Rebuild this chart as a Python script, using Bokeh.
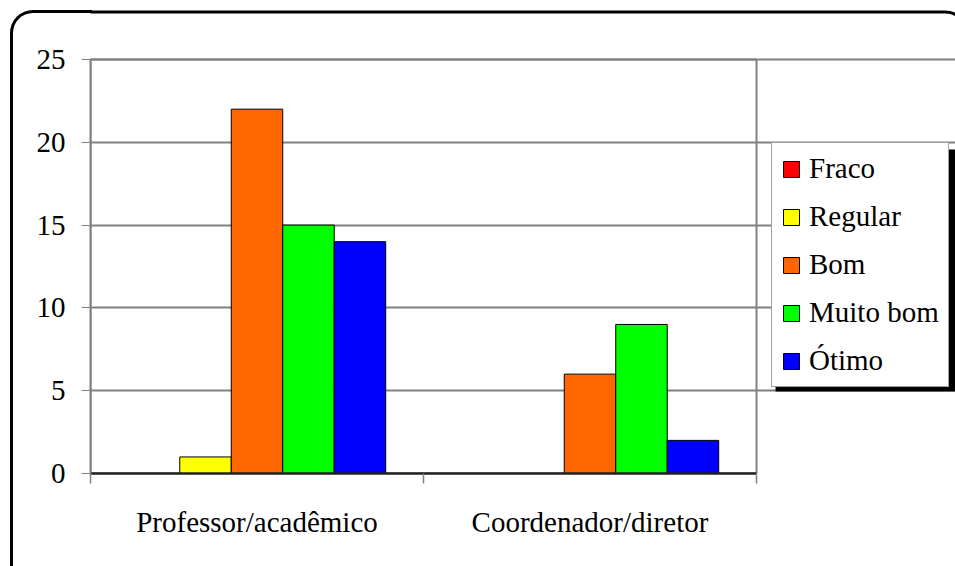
from bokeh.plotting import figure
from bokeh.models import (ColumnDataSource, Range1d, FixedTicker, BoxAnnotation,
                          InlineStyleSheet)
from bokeh.embed import file_html
from bokeh.resources import INLINE

# Survey answers per respondent group
categories = ["Professor/acadêmico", "Coordenador/diretor"]
ratings = ["Fraco", "Regular", "Bom", "Muito bom", "Ótimo"]
fraco = [0, 0]
regular = [1, 0]
bom = [22, 6]
muito_bom = [15, 9]
otimo = [14, 2]
colors = ["#FF0000", "#FFFF00", "#FF6600", "#00FF00", "#0000FF"]
y_ticks = [0, 5, 10, 15, 20, 25]

series = [fraco, regular, bom, muito_bom, otimo]
FONT = "Liberation Serif"

# Page geometry (pixels): plot area spans x 90..756, y 59..473
W, H = 955, 566
LEFT, BOTTOM_PAD = 90, 93
PLOT_W, PLOT_TOP = 666, 59
frame_w = W - LEFT
frame_h = H - BOTTOM_PAD
x_max = 2 * frame_w / PLOT_W
y_max = 25 * frame_h / (frame_h - PLOT_TOP)

p = figure(width=W, height=H, output_backend="svg", toolbar_location=None,
           x_range=Range1d(0, x_max), y_range=Range1d(0, y_max),
           min_border_left=LEFT, min_border_right=0,
           min_border_top=0, min_border_bottom=BOTTOM_PAD)
p.background_fill_color = "white"
p.border_fill_color = "white"
p.outline_line_color = None

# Rounded outer frame: left edge and top-left corner in CSS,
# the rest of the top edge and the top-right corner on the canvas
p.stylesheets = [InlineStyleSheet(css="""
:host { overflow: hidden; }
:host::after {
  content: ""; position: absolute; left: 10px; top: 10px;
  width: 82px; height: 620px; box-sizing: border-box;
  border-top: 3px solid black; border-left: 3px solid black;
  border-top-left-radius: 23px; pointer-events: none;
}
""")]
outer = BoxAnnotation(left=10 - LEFT + 1.5, right=969 - LEFT - 1.5,
                      top=frame_h - 11.5, bottom=-100,
                      left_units="screen", right_units="screen",
                      bottom_units="screen", top_units="screen",
                      fill_alpha=0, line_color="black", line_alpha=1.0,
                      line_width=3, border_radius=23)
p.add_layout(outer)

# Shadow behind the legend box
shadow = BoxAnnotation(left=685, right=866, bottom=82, top=324,
                       left_units="screen", right_units="screen",
                       bottom_units="screen", top_units="screen",
                       fill_color="black", fill_alpha=1.0, line_alpha=0)
p.add_layout(shadow)

bar_w = 0.1546
centers = [i + 0.5 for i in range(len(categories))]
for k, (name, vals, col) in enumerate(zip(ratings, series, colors)):
    off = (k - 2) * bar_w
    src = ColumnDataSource(dict(x=[c + off for c in centers], top=vals))
    p.vbar(x="x", top="top", bottom=0, width=bar_w, source=src,
           fill_color=col, line_color="black", line_width=1,
           legend_label=name)

# Gray border of the plot area
plot_box = BoxAnnotation(left=0, right=2, bottom=0, top=25,
                         fill_alpha=0, line_color="#808080", line_alpha=1.0,
                         line_width=2, level="underlay")
p.add_layout(plot_box)

# Axes
yax = p.yaxis[0]
yax.ticker = FixedTicker(ticks=y_ticks)
yax.bounds = (0, 25)
yax.axis_line_color = "#808080"
yax.axis_line_width = 2
yax.major_tick_line_color = "#808080"
yax.major_tick_out = 9
yax.major_tick_in = 0
yax.minor_tick_line_color = None
yax.major_label_text_font = FONT
yax.major_label_text_font_size = "29px"
yax.major_label_text_color = "black"
yax.major_label_standoff = 16

xax = p.xaxis[0]
xax.ticker = FixedTicker(ticks=centers, minor_ticks=[0, 1, 2])
xax.bounds = (0, 2)
xax.major_label_overrides = {c: lab for c, lab in zip(centers, categories)}
xax.axis_line_color = "#202020"
xax.axis_line_width = 2.5
xax.major_tick_out = 0
xax.major_tick_in = 0
xax.minor_tick_out = 10
xax.minor_tick_in = 0
xax.minor_tick_line_color = "#808080"
xax.minor_tick_line_width = 1.5
xax.major_label_text_font = FONT
xax.major_label_text_font_size = "29px"
xax.major_label_text_color = "black"
xax.major_label_standoff = 22

p.xgrid.grid_line_color = None
p.ygrid.ticker = FixedTicker(ticks=y_ticks)
p.ygrid.bounds = (0, 2)
p.ygrid.grid_line_color = "#808080"
p.ygrid.grid_line_width = 2

# Legend
lg = p.legend[0]
lg.location = (681, 86)
lg.label_text_font = FONT
lg.label_text_font_size = "29px"
lg.label_text_color = "black"
lg.glyph_width = 20
lg.glyph_height = 20
lg.label_standoff = 8
lg.padding = 9
lg.spacing = 15
lg.margin = 0
lg.border_line_color = "#404040"
lg.border_line_width = 1
lg.background_fill_color = "white"
lg.background_fill_alpha = 1.0

open("out.html", "w").write(file_html(p, INLINE))
